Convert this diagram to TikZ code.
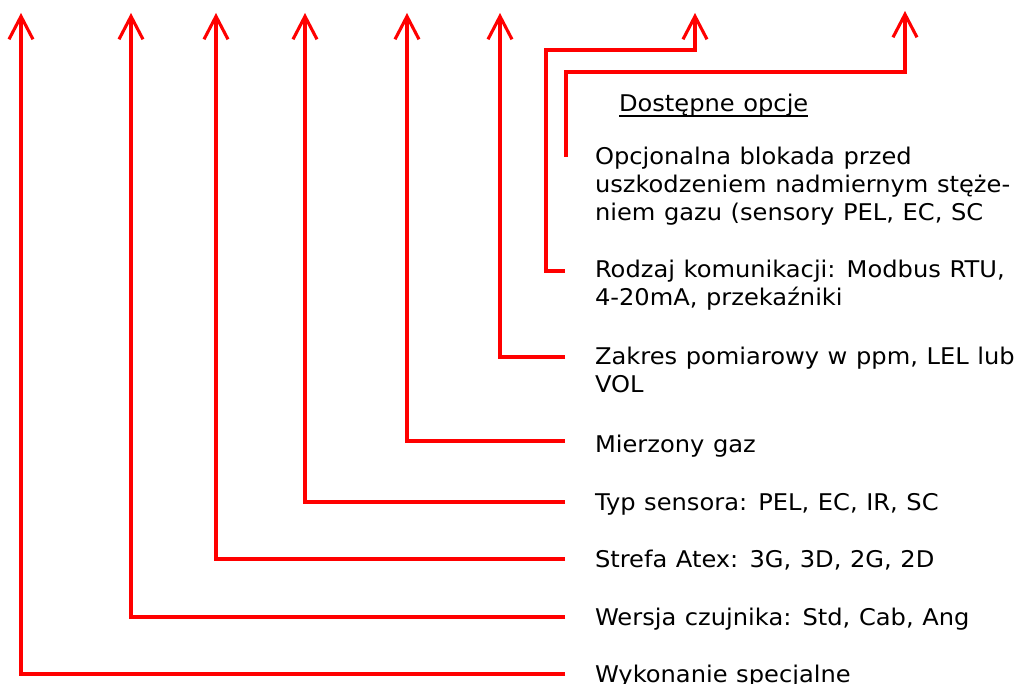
\documentclass[tikz,border=0pt]{standalone}
\usepackage{fontspec}
\setmainfont[FakeStretch=1.05, WordSpace=1.12]{DejaVu Sans}
\usetikzlibrary{arrows.meta}

\tikzset{
  lead/.style={draw=red, line width=3.1pt, line join=miter,
    -{Straight Barb[length=23pt, width=24pt]}},
  desc/.style={anchor=base west, inner sep=0pt, outer sep=0pt,
    font=\fontsize{23}{28}\selectfont, text=black},
}

\begin{document}
\begin{tikzpicture}[x=1pt, y=-1pt]
  \useasboundingbox (0,0) rectangle (1014,684);

  % arrow tips along the top edge
  \coordinate (t1) at (21,13);
  \coordinate (t2) at (131,13);
  \coordinate (t3) at (216,13);
  \coordinate (t4) at (305,13);
  \coordinate (t5) at (407,13);
  \coordinate (t6) at (500,13);
  \coordinate (t7) at (695,13);
  \coordinate (t8) at (905,11);
  % bends of the two option leaders
  \coordinate (b7) at (546,50);
  \coordinate (b8) at (566,72);

  % descriptions
  \node[desc] (dost) at (619,112) {Dostępne opcje};
  \node[desc] (opc) at (595,164.5)
    {\begin{tabular}[t]{@{}l@{}}Opcjonalna blokada przed\\uszkodzeniem nadmiernym stęże-\\niem gazu (sensory PEL, EC, SC\end{tabular}};
  \node[desc] (rodz) at (595,278)
    {\begin{tabular}[t]{@{}l@{}}Rodzaj komunikacji: Modbus RTU,\\4-20mA, przekaźniki\end{tabular}};
  \node[desc] (zakr) at (595,364)
    {\begin{tabular}[t]{@{}l@{}}Zakres pomiarowy w ppm, LEL lub\\VOL\end{tabular}};
  \node[desc] (gaz) at (595,452) {Mierzony gaz};
  \node[desc] (typ) at (595,510) {Typ sensora: PEL, EC, IR, SC};
  \node[desc] (atex) at (595,567) {Strefa Atex: 3G, 3D, 2G, 2D};
  \node[desc] (wer) at (595,625) {Wersja czujnika: Std, Cab, Ang};
  \node[desc] (wyk) at (595,682) {Wykonanie specjalne};

  % heading underline
  \draw[line width=1.5pt] ([yshift=-4pt]dost.base west) -- ([yshift=-4pt]dost.base east);

  % leaders from each description up to its position
  \draw[lead] ([xshift=-30pt,yshift=8pt]wyk.base west) -| (t1);
  \draw[lead] ([xshift=-30pt,yshift=8pt]wer.base west) -| (t2);
  \draw[lead] ([xshift=-30pt,yshift=8pt]atex.base west) -| (t3);
  \draw[lead] ([xshift=-30pt,yshift=8pt]typ.base west) -| (t4);
  \draw[lead] ([xshift=-30pt,yshift=11pt]gaz.base west) -| (t5);
  \draw[lead] ([xshift=-30pt,yshift=7pt]zakr.base west) -| (t6);
  \draw[lead] ([xshift=-30pt,yshift=7pt]rodz.base west) -| (b7) -| (t7);
  \draw[lead] ([xshift=-29pt,yshift=7.5pt]opc.base west) -- (b8) -| (t8);
\end{tikzpicture}
\end{document}
